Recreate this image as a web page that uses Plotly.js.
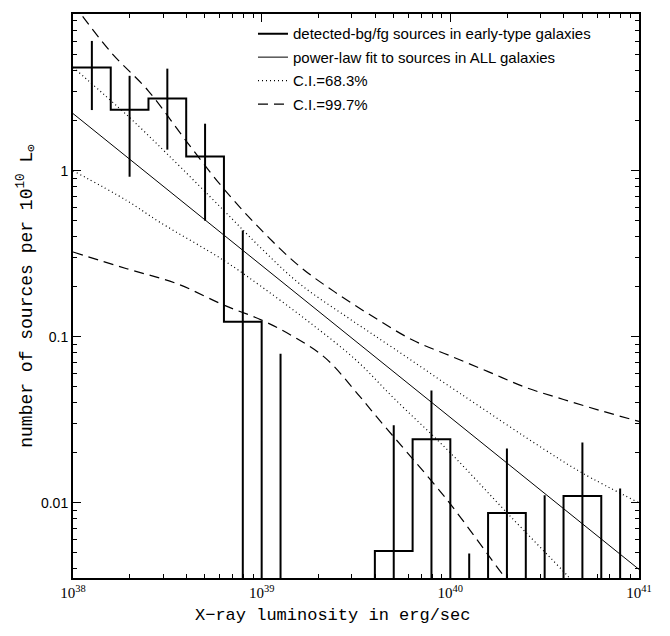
<!DOCTYPE html>
<html>
<head>
<meta charset="utf-8">
<script src="https://cdn.plot.ly/plotly-3.0.1.min.js"></script>
<style>html,body{margin:0;padding:0;background:#fff;}#chart{width:670px;height:636px;}</style>
</head>
<body>
<div id="chart"></div>
<script>
// ---- data ----
// histogram bin edges (erg/s) and values (sources per 1e10 Lsun)
const binEdges = [1e38, 1.585e38, 2.512e38, 3.981e38, 6.31e38, 1e39, 1.585e39, 2.512e39, 3.981e39, 6.31e39, 1e40, 1.585e40, 2.512e40, 3.981e40, 6.31e40, 1e41];
const binValues = [4.18, 2.33, 2.72, 1.22, 0.123, 0, 0, 0, 0.00512, 0.0241, 0, 0.00869, 0, 0.0110, 0];
// error bars at bin centres
const errX = [1.259e38, 1.995e38, 3.162e38, 5.012e38, 7.943e38, 1.259e39, 1.995e39, 3.162e39, 5.012e39, 7.943e39, 1.259e40, 1.995e40, 3.162e40, 5.012e40, 7.943e40];
const errHigh = [6.05, 3.73, 4.12, 1.92, 0.436, 0.079, null, null, 0.0293, 0.0475, 0.00495, 0.0212, 0.0111, 0.0231, 0.0122];
const errLow  = [2.32, 0.92, 1.34, 0.50, 0, 0, null, null, 0, 0, 0, 0, 0, 0, 0];
// power-law fit
const fitX = [1e38, 1e39, 1e40, 1e41];
const fitY = [2.21, 0.269, 0.0327, 0.00397];
// 68.3% confidence interval
const ci68UpX = [1e38, 1.995e38, 3.162e38, 6.31e38, 1e39, 1.585e39, 2.818e39, 5.012e39, 1.122e40, 3.162e40, 5.012e40, 1e41];
const ci68UpY = [4.2, 2.09, 1.26, 0.575, 0.339, 0.209, 0.132, 0.0851, 0.0457, 0.0209, 0.0151, 0.0100];
const ci68LoX = [1e38, 1.928e38, 2.884e38, 6.31e38, 1e39, 1.778e39, 3.162e39, 5.012e39, 1e40, 1.995e40, 4.266e40, 6.31e40];
const ci68LoY = [1.0, 0.661, 0.490, 0.288, 0.200, 0.123, 0.0724, 0.0427, 0.0200, 0.00871, 0.00355, 0.00219];
// 99.7% confidence interval
const ci997UpX = [1e38, 1.585e38, 2.512e38, 3.981e38, 6.31e38, 1e39, 1.585e39, 2.512e39, 3.981e39, 6.31e39, 1e40, 1.585e40, 2.512e40, 3.981e40, 6.31e40, 1e41];
const ci997UpY = [10.2, 5.19, 3.02, 1.51, 0.776, 0.437, 0.266, 0.182, 0.130, 0.0955, 0.0767, 0.0617, 0.0495, 0.0419, 0.0358, 0.0309];
const ci997LoX = [1e38, 1.928e38, 3.548e38, 6.31e38, 1e39, 1.479e39, 2.188e39, 3.311e39, 4.266e39, 9.55e39, 1.95e40, 2.512e40];
const ci997LoY = [0.324, 0.257, 0.209, 0.155, 0.126, 0.100, 0.0741, 0.0437, 0.0309, 0.0105, 0.00355, 0.00251];
// axis ticks and titles
const xTickVals = [1e38, 1e39, 1e40, 1e41];
const xTickText = ['10<sup>38</sup>', '10<sup>39</sup>', '10<sup>40</sup>', '10<sup>41</sup>'];
const yTickVals = [0.01, 0.1, 1];
const yTickText = ['0.01', '0.1', '1'];
const xTitle = 'X\u2212ray luminosity in erg/sec';
const yTitle = 'number of sources per 10<sup>10</sup> L<sub>\u2299</sub>';

// values of zero sit below the log axis
const FLOOR = 1e-6;
const histX = binEdges.slice();
const histY = binValues.concat([binValues[binValues.length - 1]]).map(v => v > 0 ? v : FLOOR);

const ebX = [], ebY = [];
errX.forEach((x, i) => {
  if (errHigh[i] === null) return;
  ebX.push(x, x, null);
  ebY.push(errLow[i] > 0 ? errLow[i] : FLOOR, errHigh[i], null);
});

const dash997 = '10px,6px';
const dot68 = '1px,3px';

const traces = [
  {x: histX, y: histY, mode: 'lines', line: {shape: 'hv', color: '#000', width: 2},
   name: 'detected-bg/fg sources in early-type galaxies', legendgroup: 'a'},
  {x: ebX, y: ebY, mode: 'lines', line: {color: '#000', width: 2}, showlegend: false, legendgroup: 'a', hoverinfo: 'skip'},
  {x: fitX, y: fitY, mode: 'lines', line: {color: '#000', width: 1},
   name: 'power-law fit to sources in ALL galaxies', legendgroup: 'b'},
  {x: ci68UpX, y: ci68UpY, mode: 'lines', line: {color: '#000', width: 1.2, dash: dot68, shape: 'spline'},
   name: 'C.I.=68.3%', legendgroup: 'c'},
  {x: ci68LoX, y: ci68LoY, mode: 'lines', line: {color: '#000', width: 1.2, dash: dot68, shape: 'spline'},
   showlegend: false, legendgroup: 'c'},
  {x: ci997UpX, y: ci997UpY, mode: 'lines', line: {color: '#000', width: 1.2, dash: dash997, shape: 'spline'},
   name: 'C.I.=99.7%', legendgroup: 'd'},
  {x: ci997LoX, y: ci997LoY, mode: 'lines', line: {color: '#000', width: 1.2, dash: dash997, shape: 'spline'},
   showlegend: false, legendgroup: 'd'}
];

const axisCommon = {
  showline: true, linecolor: '#000', linewidth: 2, mirror: 'ticks',
  ticks: 'inside', ticklen: 8, tickwidth: 1, tickcolor: '#000',
  showgrid: false, zeroline: false,
  minor: {ticks: 'inside', ticklen: 4, tickwidth: 1, tickcolor: '#000', dtick: 'D1', showgrid: false}
};

const monoFont = 'Liberation Mono, Courier New, monospace';

const layout = {
  width: 670, height: 636,
  margin: {l: 73, r: 31, t: 14, b: 58},
  paper_bgcolor: '#fff', plot_bgcolor: '#fff',
  showlegend: true,
  legend: {x: 0.318, y: 0.994, xanchor: 'left', yanchor: 'top', bgcolor: 'rgba(0,0,0,0)',
           font: {family: 'Liberation Sans, Arial, sans-serif', size: 15, color: '#000'},
           traceorder: 'grouped', tracegroupgap: 1},
  xaxis: Object.assign({}, axisCommon, {
    type: 'log', range: [38, 41], tickmode: 'array', tickvals: xTickVals, ticktext: xTickText,
    tickfont: {family: 'Liberation Serif, Times New Roman, serif', size: 15, color: '#000'}
  }),
  yaxis: Object.assign({}, axisCommon, {
    type: 'log', range: [-2.453, 0.944], tickmode: 'array', tickvals: yTickVals, ticktext: yTickText,
    tickfont: {family: 'Liberation Sans, Arial, sans-serif', size: 14, color: '#000'},
    title: {text: yTitle, font: {family: monoFont, size: 18, color: '#000'}, standoff: 4}
  }),
  annotations: [{
    text: xTitle, xref: 'paper', yref: 'paper', x: 0.458, y: -0.067,
    xanchor: 'center', yanchor: 'middle', showarrow: false,
    font: {family: monoFont, size: 17, color: '#000'}
  }]
};

Plotly.newPlot('chart', traces, layout, {displayModeBar: false, staticPlot: true});
</script>
</body>
</html>
